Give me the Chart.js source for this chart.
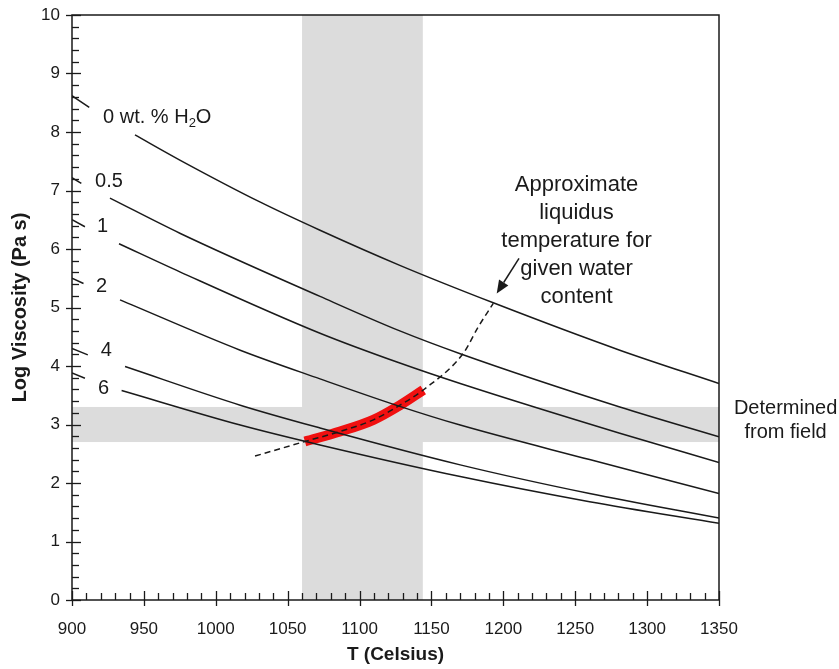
<!DOCTYPE html>
<html><head><meta charset="utf-8">
<script src="https://cdn.jsdelivr.net/npm/chart.js@4.4.1/dist/chart.umd.min.js"></script>
<style>html,body{margin:0;padding:0;background:#fff}</style>
</head><body>
<canvas id="c" width="839" height="669"></canvas>
<script>
// ---- data (T in Celsius, log viscosity in Pa s) ----
const xTickValues = [900, 950, 1000, 1050, 1100, 1150, 1200, 1250, 1300, 1350];
const xTickLabels = ['900', '950', '1000', '1050', '1100', '1150', '1200', '1250', '1300', '1350'];
const yTickValues = [0, 1, 2, 3, 4, 5, 6, 7, 8, 9, 10];
const yTickLabels = ['0', '1', '2', '3', '4', '5', '6', '7', '8', '9', '10'];

const seriesNames = ['0 wt. % H2O', '0.5', '1', '2', '4', '6'];
const curve0  = [[900, 8.62], [912, 8.42], [925, null], [943.8, 7.95], [975, 7.52], [1031, 6.80], [1072.5, 6.32], [1128, 5.72], [1193, 5.08], [1281, 4.27], [1350, 3.70]];
const curve05 = [[900, 7.22], [906.5, 7.12], [915, null], [926.4, 6.87], [975, 6.27], [1072.5, 5.19], [1128, 4.60], [1170, 4.21], [1281, 3.30], [1350, 2.79]];
const curve1  = [[900, 6.50], [909, 6.38], [920, null], [932.7, 6.09], [975, 5.61], [1072.5, 4.56], [1128, 4.05], [1170, 3.70], [1281, 2.85], [1350, 2.35]];
const curve2  = [[900, 5.50], [908, 5.41], [920, null], [933.4, 5.13], [1017, 4.27], [1072.5, 3.78], [1128, 3.31], [1170, 2.99], [1260, 2.40], [1350, 1.82]];
const curve4  = [[900, 4.30], [911, 4.19], [922, null], [936.9, 3.99], [1017, 3.33], [1072.5, 2.94], [1170, 2.31], [1260, 1.82], [1350, 1.40]];
const curve6  = [[900, 3.88], [909, 3.79], [920, null], [934.5, 3.58], [1017, 2.99], [1072.5, 2.65], [1170, 2.11], [1260, 1.68], [1350, 1.31]];

const liquidus = [[1027.3, 2.46], [1062, 2.71], [1086.4, 2.88], [1109.6, 3.08], [1128.1, 3.33], [1144.3, 3.59], [1172.2, 4.22], [1182.6, 4.67], [1193, 5.07]];
const fieldRange = [[1062, 2.71], [1086.4, 2.88], [1109.6, 3.08], [1128.1, 3.33], [1144.3, 3.59]];

const tempBand = [1060, 1144];      // vertical grey band (T)
const viscBand = [2.7, 3.3];        // horizontal grey band (log viscosity)

// label anchor positions (data coords)
const curveLabelPos = [[921.6, 8.25], [916, 7.15], [917.4, 6.38], [916.7, 5.36], [920, 4.27], [918, 3.62]];
const liquidusNote = ['Approximate', 'liquidus', 'temperature for', 'given water', 'content'];
const liquidusNotePos = [1250.9, 7.09];
const fieldNote = ['Determined', 'from field'];
const fieldNotePos = [1396.3, 3.28];
const arrowFrom = [1210.9, 5.84];
const arrowTo = [1195.4, 5.24];

// ---- build ----
const toXY = arr => arr.map(p => ({x: p[0], y: p[1]}));
const INK = '#1a1a1a';
const FONT = "'Liberation Sans', Arial, Helvetica, sans-serif";
const curves = [curve0, curve05, curve1, curve2, curve4, curve6];

const datasets = curves.map((c, i) => ({
  label: seriesNames[i], data: toXY(c), borderColor: INK, borderWidth: 1.5,
  pointRadius: 0, cubicInterpolationMode: 'monotone', spanGaps: false, fill: false, order: 1
}));
datasets.push({label: 'field', data: toXY(fieldRange), borderColor: '#f01010', borderWidth: 10,
  pointRadius: 0, cubicInterpolationMode: 'monotone', borderCapStyle: 'butt', fill: false, order: 5});
datasets.push({label: 'liquidus', data: toXY(liquidus), borderColor: INK, borderWidth: 1.5, borderDash: [6, 4],
  pointRadius: 0, cubicInterpolationMode: 'monotone', fill: false, order: 0});

const deco = {
  id: 'deco',
  beforeDatasetsDraw(chart) {
    const {ctx, chartArea: a, scales: {x, y}} = chart;
    ctx.save();
    ctx.fillStyle = '#dcdcdc';
    const x0 = x.getPixelForValue(tempBand[0]), x1 = x.getPixelForValue(tempBand[1]);
    ctx.fillRect(x0, a.top, x1 - x0, a.bottom - a.top);
    const y0 = y.getPixelForValue(viscBand[1]), y1 = y.getPixelForValue(viscBand[0]);
    ctx.fillRect(a.left, y0, a.right - a.left, y1 - y0);
    ctx.restore();
  },
  afterDraw(chart) {
    const {ctx, chartArea: a, scales: {x, y}} = chart;
    ctx.save();
    ctx.strokeStyle = INK; ctx.fillStyle = INK;
    // frame
    ctx.lineWidth = 1.5;
    ctx.strokeRect(a.left, a.top, a.right - a.left, a.bottom - a.top);
    // x ticks
    ctx.lineWidth = 1.3;
    for (let v = x.min; v <= x.max + 0.001; v += 10) {
      const px = Math.round(x.getPixelForValue(v)) + 0.5;
      const major = Math.abs(v % 50) < 0.001;
      ctx.beginPath();
      ctx.moveTo(px, a.bottom + (major ? 6 : 0));
      ctx.lineTo(px, a.bottom - (major ? 9 : 7));
      ctx.stroke();
    }
    // y ticks
    for (let k = 0; k <= 50; k++) {
      const v = k * 0.2;
      const py = Math.round(y.getPixelForValue(v)) + 0.5;
      const major = k % 5 === 0;
      ctx.beginPath();
      ctx.moveTo(a.left - (major ? 6 : 0), py);
      ctx.lineTo(a.left + (major ? 9 : 7), py);
      ctx.stroke();
    }
    // curve labels
    ctx.font = '20px ' + FONT;
    ctx.textBaseline = 'middle'; ctx.textAlign = 'left';
    curveLabelPos.forEach((p, i) => {
      let px = x.getPixelForValue(p[0]); const py = y.getPixelForValue(p[1]);
      if (i === 0) {
        const a1 = '0 wt. % H';
        ctx.fillText(a1, px, py); px += ctx.measureText(a1).width;
        ctx.font = '13px ' + FONT; ctx.fillText('2', px, py + 6); px += ctx.measureText('2').width;
        ctx.font = '20px ' + FONT; ctx.fillText('O', px, py);
      } else {
        ctx.fillText(seriesNames[i], px, py);
      }
    });
    // notes
    ctx.textAlign = 'center';
    ctx.font = '22px ' + FONT;
    const nx = x.getPixelForValue(liquidusNotePos[0]), ny = y.getPixelForValue(liquidusNotePos[1]);
    liquidusNote.forEach((t, i) => ctx.fillText(t, nx, ny + i * 28));
    ctx.font = '20px ' + FONT;
    const fx = x.getPixelForValue(fieldNotePos[0]), fy = y.getPixelForValue(fieldNotePos[1]);
    fieldNote.forEach((t, i) => ctx.fillText(t, fx, fy + i * 24));
    // arrow
    const ax0 = x.getPixelForValue(arrowFrom[0]), ay0 = y.getPixelForValue(arrowFrom[1]);
    const ax1 = x.getPixelForValue(arrowTo[0]), ay1 = y.getPixelForValue(arrowTo[1]);
    const ang = Math.atan2(ay1 - ay0, ax1 - ax0);
    const hl = 13, hw = 5.5;
    const bx = ax1 - hl * Math.cos(ang), by = ay1 - hl * Math.sin(ang);
    ctx.lineWidth = 1.5;
    ctx.beginPath(); ctx.moveTo(ax0, ay0); ctx.lineTo(bx, by); ctx.stroke();
    ctx.beginPath();
    ctx.moveTo(ax1, ay1);
    ctx.lineTo(bx + hw * Math.sin(ang), by - hw * Math.cos(ang));
    ctx.lineTo(bx - hw * Math.sin(ang), by + hw * Math.cos(ang));
    ctx.closePath(); ctx.fill();
    ctx.restore();
  }
};

new Chart(document.getElementById('c'), {
  type: 'line',
  data: {datasets},
  options: {
    responsive: false, animation: false, devicePixelRatio: 1,
    layout: {padding: {left: 0, right: 120, top: 15, bottom: 0}},
    plugins: {legend: {display: false}, tooltip: {enabled: false}},
    scales: {
      x: {
        type: 'linear', min: 900, max: 1350,
        afterBuildTicks: s => { s.ticks = xTickValues.map(v => ({value: v})); },
        afterFit: s => { s.height = 69; s.paddingLeft = 0; s.paddingRight = 0; },
        grid: {display: false, drawTicks: false},
        border: {display: false},
        ticks: {color: INK, font: {family: FONT, size: 17}, padding: 19, maxRotation: 0, autoSkip: false,
          callback: v => xTickLabels[xTickValues.indexOf(v)]},
        title: {display: true, text: 'T (Celsius)', color: INK, font: {family: FONT, size: 19, weight: 'bold'}, padding: {top: 0, bottom: 3}}
      },
      y: {
        type: 'linear', min: 0, max: 10,
        afterBuildTicks: s => { s.ticks = yTickValues.map(v => ({value: v})); },
        afterFit: s => { s.width = 72; s.paddingTop = 0; s.paddingBottom = 0; },
        grid: {display: false, drawTicks: false},
        border: {display: false},
        ticks: {color: INK, font: {family: FONT, size: 17}, padding: 12, autoSkip: false,
          callback: v => yTickLabels[yTickValues.indexOf(v)]},
        title: {display: true, text: 'Log Viscosity (Pa s)', color: INK, font: {family: FONT, size: 20, weight: 'bold'}, padding: {top: 8, bottom: 0}}
      }
    }
  },
  plugins: [deco]
});
</script>
</body></html>
